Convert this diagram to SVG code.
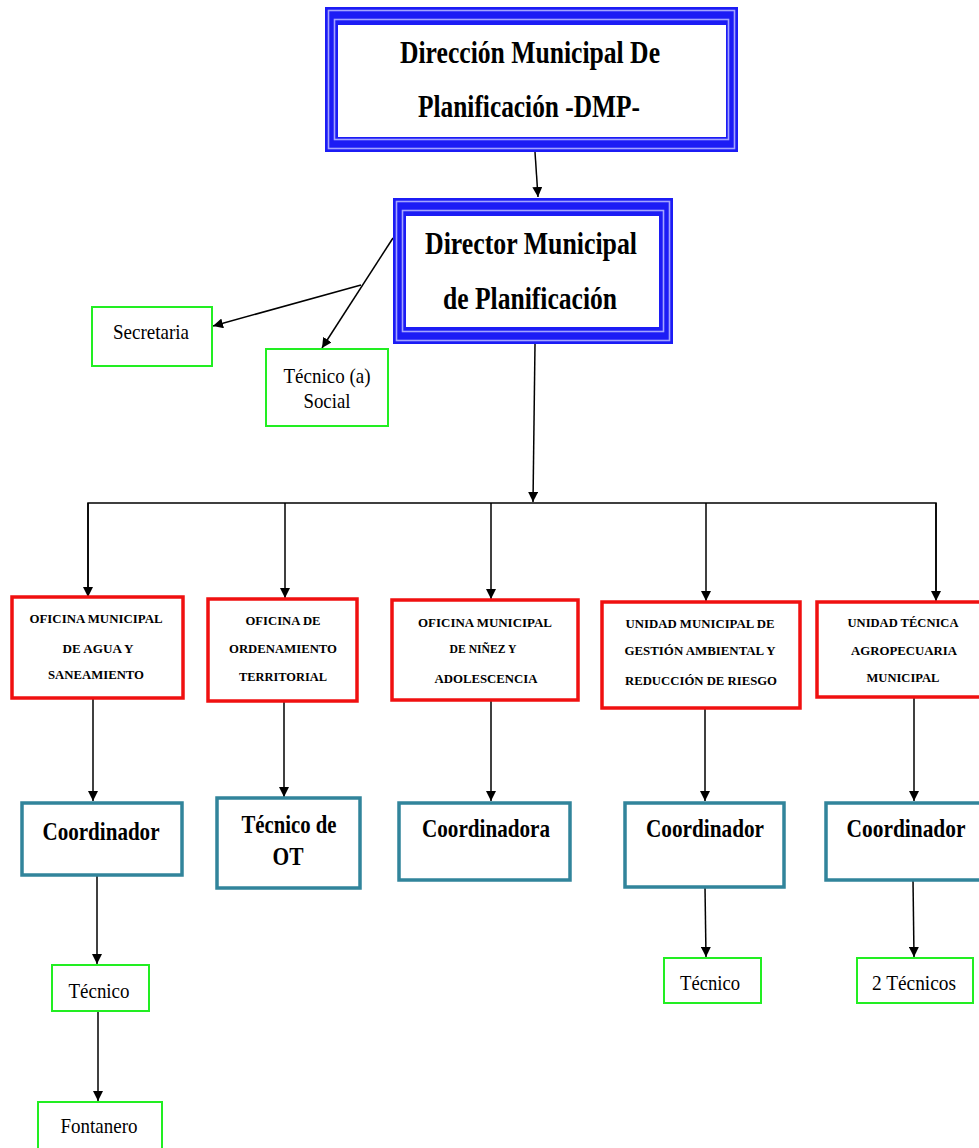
<svg xmlns="http://www.w3.org/2000/svg" width="979" height="1148" viewBox="0 0 979 1148">
<style>
.t{font-family:"Liberation Serif","Times New Roman",serif;fill:#000;text-anchor:middle}
.big{font-size:32px;font-weight:bold}
.mid{font-size:25px;font-weight:bold}
.sm{font-size:21px}
.cap{font-size:12px;font-weight:bold}
.dk{fill:#1c1cf5}
.lt{fill:none;stroke:#a4a4ff;stroke-width:1.6}
.wh{fill:#fff}
.red{fill:#fff;stroke:#f01010;stroke-width:3.5}
.teal{fill:#fff;stroke:#31849b;stroke-width:3.5}
.grn{fill:#fff;stroke:#22ee22;stroke-width:2}
.ln{fill:none;stroke:#000;stroke-width:1.5}
</style>
<defs>
<marker id="ah" viewBox="0 0 10 10" refX="10" refY="5" markerWidth="10" markerHeight="10" markerUnits="userSpaceOnUse" orient="auto">
<path d="M0,0 L10,5 L0,10 z" fill="#000"/>
</marker>
</defs>

<g id="connectors">
<line class="ln" x1="535" y1="152" x2="538" y2="197" marker-end="url(#ah)"/>
<line class="ln" x1="393" y1="238" x2="322" y2="348" marker-end="url(#ah)"/>
<line class="ln" x1="361" y1="285" x2="213" y2="326" marker-end="url(#ah)"/>
<line class="ln" x1="535" y1="344" x2="533" y2="502" marker-end="url(#ah)"/>
<polyline class="ln" points="88,597 88,503 936,503 936,597" fill="none"/>
<line class="ln" x1="88" y1="503" x2="88" y2="597" marker-end="url(#ah)"/>
<line class="ln" x1="285" y1="503" x2="285" y2="598" marker-end="url(#ah)"/>
<line class="ln" x1="491" y1="503" x2="491" y2="599" marker-end="url(#ah)"/>
<line class="ln" x1="706" y1="503" x2="706" y2="601" marker-end="url(#ah)"/>
<line class="ln" x1="936" y1="503" x2="936" y2="601" marker-end="url(#ah)"/>
<line class="ln" x1="93" y1="698" x2="93" y2="801" marker-end="url(#ah)"/>
<line class="ln" x1="284" y1="701" x2="284" y2="797" marker-end="url(#ah)"/>
<line class="ln" x1="491" y1="700" x2="491" y2="801" marker-end="url(#ah)"/>
<line class="ln" x1="705" y1="708" x2="705" y2="801" marker-end="url(#ah)"/>
<line class="ln" x1="914" y1="697" x2="914" y2="801" marker-end="url(#ah)"/>
<line class="ln" x1="97" y1="875" x2="97" y2="964" marker-end="url(#ah)"/>
<line class="ln" x1="98" y1="1011" x2="98" y2="1101" marker-end="url(#ah)"/>
<line class="ln" x1="705" y1="887" x2="706" y2="957" marker-end="url(#ah)"/>
<line class="ln" x1="913" y1="880" x2="914" y2="957" marker-end="url(#ah)"/>
</g>

<g id="dmp">
<rect class="dk" x="325" y="7" width="413" height="145"/>
<rect class="lt" x="328.5" y="10.5" width="406" height="138"/>
<rect class="lt" x="334.5" y="19.5" width="394" height="120"/>
<rect class="wh" x="338" y="25" width="388" height="112"/>
<text class="t big" x="530" y="63" textLength="260" lengthAdjust="spacingAndGlyphs">Dirección Municipal De</text>
<text class="t big" x="529" y="117" textLength="222" lengthAdjust="spacingAndGlyphs">Planificación -DMP-</text>
</g>

<g id="director">
<rect class="dk" x="393" y="198" width="280" height="146"/>
<rect class="lt" x="396.5" y="201.5" width="273" height="139"/>
<rect class="lt" x="402.5" y="210.5" width="261" height="121"/>
<rect class="wh" x="406" y="216" width="253" height="111"/>
<text class="t big" x="531" y="254" textLength="212" lengthAdjust="spacingAndGlyphs">Director Municipal</text>
<text class="t big" x="530" y="309" textLength="174" lengthAdjust="spacingAndGlyphs">de Planificación</text>
</g>

<g id="secretaria">
<rect class="grn" x="92" y="307" width="120" height="59"/>
<text class="t sm" x="151" y="339" textLength="76" lengthAdjust="spacingAndGlyphs">Secretaria</text>
</g>

<g id="tecnico-social">
<rect class="grn" x="266" y="349" width="122" height="77"/>
<text class="t sm" x="327" y="383" textLength="87" lengthAdjust="spacingAndGlyphs">Técnico (a)</text>
<text class="t sm" x="327" y="408" textLength="47" lengthAdjust="spacingAndGlyphs">Social</text>
</g>

<g id="omas">
<rect class="red" x="12" y="597" width="171" height="101"/>
<text class="t cap" x="96" y="623" textLength="133" lengthAdjust="spacingAndGlyphs">OFICINA MUNICIPAL</text>
<text class="t cap" x="98" y="653" textLength="71" lengthAdjust="spacingAndGlyphs">DE AGUA Y</text>
<text class="t cap" x="96" y="679" textLength="96" lengthAdjust="spacingAndGlyphs">SANEAMIENTO</text>
</g>

<g id="oot">
<rect class="red" x="208" y="599" width="149" height="102"/>
<text class="t cap" x="283" y="625" textLength="75" lengthAdjust="spacingAndGlyphs">OFICINA DE</text>
<text class="t cap" x="283" y="653" textLength="108" lengthAdjust="spacingAndGlyphs">ORDENAMIENTO</text>
<text class="t cap" x="283" y="681" textLength="88" lengthAdjust="spacingAndGlyphs">TERRITORIAL</text>
</g>

<g id="omna">
<rect class="red" x="392" y="600" width="186" height="100"/>
<text class="t cap" x="485" y="627" textLength="134" lengthAdjust="spacingAndGlyphs">OFICINA MUNICIPAL</text>
<text class="t cap" x="483" y="653" textLength="67" lengthAdjust="spacingAndGlyphs">DE NIÑEZ Y</text>
<text class="t cap" x="486" y="683" textLength="103" lengthAdjust="spacingAndGlyphs">ADOLESCENCIA</text>
</g>

<g id="umgarr">
<rect class="red" x="602" y="602" width="198" height="106"/>
<text class="t cap" x="700" y="628" textLength="149" lengthAdjust="spacingAndGlyphs">UNIDAD MUNICIPAL DE</text>
<text class="t cap" x="700" y="655" textLength="151" lengthAdjust="spacingAndGlyphs">GESTIÓN AMBIENTAL Y</text>
<text class="t cap" x="701" y="685" textLength="152" lengthAdjust="spacingAndGlyphs">REDUCCIÓN DE RIESGO</text>
</g>

<g id="utam">
<rect class="red" x="817" y="602" width="170" height="95"/>
<text class="t cap" x="903" y="627" textLength="111" lengthAdjust="spacingAndGlyphs">UNIDAD TÉCNICA</text>
<text class="t cap" x="904" y="655" textLength="106" lengthAdjust="spacingAndGlyphs">AGROPECUARIA</text>
<text class="t cap" x="903" y="682" textLength="73" lengthAdjust="spacingAndGlyphs">MUNICIPAL</text>
</g>

<g id="coord1">
<rect class="teal" x="22" y="803" width="160" height="72"/>
<text class="t mid" x="101" y="840" textLength="117" lengthAdjust="spacingAndGlyphs">Coordinador</text>
</g>

<g id="tecnico-ot">
<rect class="teal" x="217" y="798" width="143" height="90"/>
<text class="t mid" x="289" y="833" textLength="95" lengthAdjust="spacingAndGlyphs">Técnico de</text>
<text class="t mid" x="288" y="865" textLength="31" lengthAdjust="spacingAndGlyphs">OT</text>
</g>

<g id="coordinadora">
<rect class="teal" x="399" y="803" width="171" height="77"/>
<text class="t mid" x="486" y="837" textLength="128" lengthAdjust="spacingAndGlyphs">Coordinadora</text>
</g>

<g id="coord4">
<rect class="teal" x="625" y="803" width="159" height="84"/>
<text class="t mid" x="705" y="837" textLength="118" lengthAdjust="spacingAndGlyphs">Coordinador</text>
</g>

<g id="coord5">
<rect class="teal" x="826" y="803" width="160" height="77"/>
<text class="t mid" x="906" y="837" textLength="119" lengthAdjust="spacingAndGlyphs">Coordinador</text>
</g>

<g id="tecnico1">
<rect class="grn" x="52" y="965" width="97" height="46"/>
<text class="t sm" x="99" y="998" textLength="61" lengthAdjust="spacingAndGlyphs">Técnico</text>
</g>

<g id="fontanero">
<rect class="grn" x="38" y="1102" width="124" height="60"/>
<text class="t sm" x="99" y="1133" textLength="77" lengthAdjust="spacingAndGlyphs">Fontanero</text>
</g>

<g id="tecnico2">
<rect class="grn" x="664" y="958" width="97" height="45"/>
<text class="t sm" x="710" y="990" textLength="60" lengthAdjust="spacingAndGlyphs">Técnico</text>
</g>

<g id="tecnicos3">
<rect class="grn" x="857" y="958" width="116" height="45"/>
<text class="t sm" x="914" y="990" textLength="84" lengthAdjust="spacingAndGlyphs">2 Técnicos</text>
</g>
</svg>
